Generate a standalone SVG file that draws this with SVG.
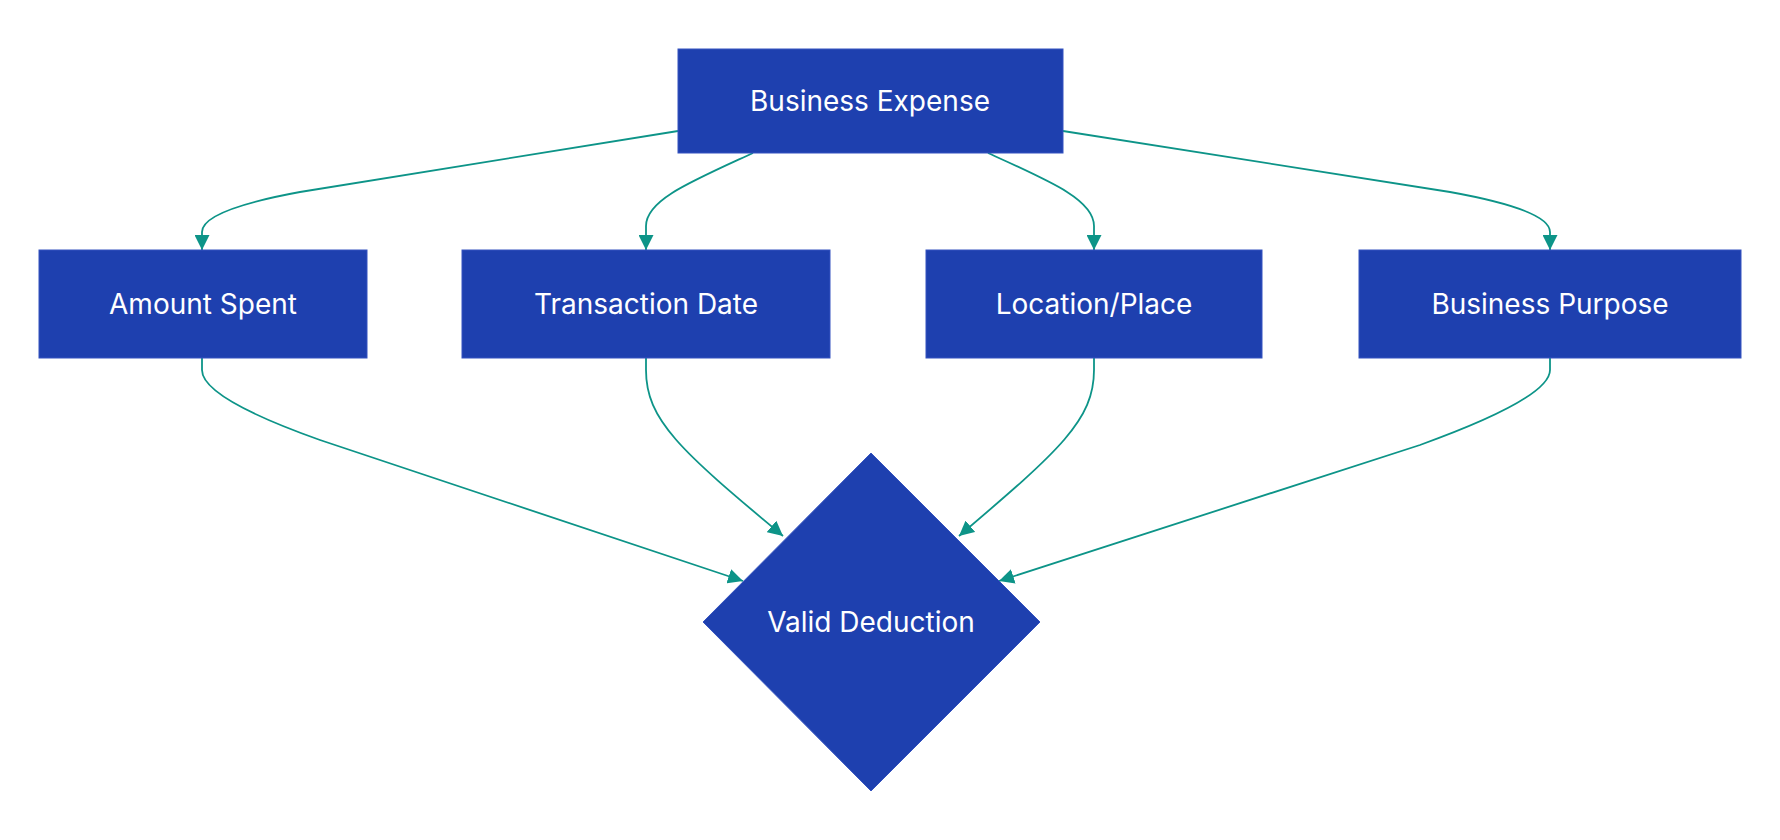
<svg xmlns="http://www.w3.org/2000/svg" width="1780" height="840" viewBox="0 0 1780 840">
<style>
.n{fill:#1e40af;stroke:#3553c0;stroke-width:1}
.t{fill:#fff;font-family:Inter,"Liberation Sans",sans-serif;font-size:28px;text-anchor:middle;dominant-baseline:central}
.e{fill:none;stroke:#0d9488;stroke-width:1.8}
</style>
<defs><marker id="a" viewBox="0 0 10 10" refX="10" refY="5" markerWidth="8" markerHeight="8" orient="auto-start-reverse" markerUnits="userSpaceOnUse"><path d="M0,0L10,5L0,10z" fill="#0d9488"/></marker>
<marker id="b" viewBox="0 0 10 10" refX="10" refY="5" markerWidth="15" markerHeight="15" orient="auto" markerUnits="userSpaceOnUse"><path d="M0,0L10,5L0,10z" fill="#0d9488"/></marker></defs>
<rect width="1780" height="840" fill="#fff"/>
<g id="edges">
<path class="e" marker-end="url(#b)" d="M678,131 L300,192 Q202,210 202,232 L202,250"/>
<path class="e" marker-end="url(#b)" d="M753,153 C690,182 646,200 646,226 L646,250"/>
<path class="e" marker-end="url(#b)" d="M988,153 C1052,182 1094,200 1094,226 L1094,250"/>
<path class="e" marker-end="url(#b)" d="M1063,131 L1450,192 Q1550,210 1550,232 L1550,250"/>
<path class="e" marker-end="url(#b)" d="M202,358 L202,370 Q202,398 320,440 L743,581"/>
<path class="e" marker-end="url(#b)" d="M646,358 L646,370 C646,420 680,450 783,536"/>
<path class="e" marker-end="url(#b)" d="M1094,358 L1094,370 C1094,420 1060,450 959,536"/>
<path class="e" marker-end="url(#b)" d="M1550,358 L1550,370 Q1550,398 1420,445 L999,581"/>
</g>
<g id="n1"><rect class="n" x="678" y="49" width="385" height="104"/><text class="t" x="870" y="101">Business Expense</text></g>
<g id="n2"><rect class="n" x="39" y="250" width="328" height="108"/><text class="t" x="203" y="304">Amount Spent</text></g>
<g id="n3"><rect class="n" x="462" y="250" width="368" height="108"/><text class="t" x="646" y="304">Transaction Date</text></g>
<g id="n4"><rect class="n" x="926" y="250" width="336" height="108"/><text class="t" x="1094" y="304">Location/Place</text></g>
<g id="n5"><rect class="n" x="1359" y="250" width="382" height="108"/><text class="t" x="1550" y="304">Business Purpose</text></g>
<g id="n6"><polygon class="n" points="871,453 1040,622 871,791 703,622"/><text class="t" x="871" y="622">Valid Deduction</text></g>
</svg>
